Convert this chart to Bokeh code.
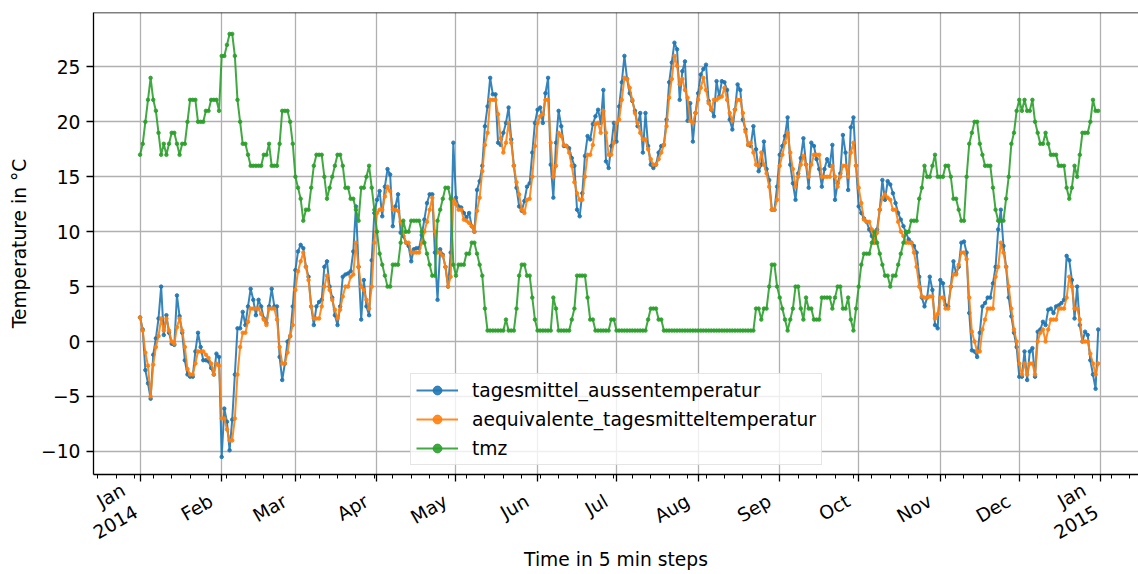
import math
from bokeh.plotting import figure
from bokeh.models import (ColumnDataSource, FixedTicker, Legend, LegendItem, Span,
                          Range1d)
from bokeh.embed import file_html
from bokeh.resources import INLINE

# ---------------- data (daily values, 1 Jan 2014 .. 31 Dec 2014) ----------------
month_labels = ["Jan\n2014", "Feb", "Mar", "Apr", "May", "Jun", "Jul", "Aug",
                "Sep", "Oct", "Nov", "Dec", "Jan\n2015"]
month_start_day = [0, 31, 59, 90, 120, 151, 181, 212, 243, 273, 304, 334, 365]
first_monday = 5          # 6 Jan 2014 was a Monday (minor ticks weekly)
y_ticks = [-10, -5, 0, 5, 10, 15, 20, 25]

tagesmittel_aussentemperatur = [
    2.2, 1.1, -2.6, -3.8, -5.2, -1.2, 0.3, 2.1, 5.0, 0.6, 2.4, 0.8, -0.2, -0.3, 4.2, 2.3, 0.8, -1.7, -3.0, -3.2, -3.2, -0.9, 0.8, -0.5, -1.7, -1.7, -1.8, -2.4, -3.0, -1.1, -1.4,
    -10.5, -6.1, -7.3, -9.9, -7.1, -3.0, 1.2, 1.2, 2.7, 1.5, 3.2, 4.8, 3.8, 2.4, 3.8, 3.2, 2.1, 1.7, 3.2, 4.8, 3.2, 3.2, -1.4, -3.5, -2.0, 0.0, 0.5, 3.2,
    6.5, 8.2, 8.8, 8.5, 6.8, 5.9, 3.2, 1.5, 3.2, 3.6, 3.8, 6.8, 7.3, 5.0, 4.0, 2.4, 1.5, 3.2, 5.9, 6.1, 6.2, 6.4, 8.2, 12.3, 6.8, 2.0, 5.6, 3.2, 2.4, 7.4, 11.7,
    12.9, 13.7, 11.4, 14.1, 15.7, 15.2, 10.5, 12.3, 13.4, 9.9, 9.6, 9.0, 8.7, 7.3, 8.4, 8.5, 8.5, 9.7, 11.1, 12.6, 13.4, 13.4, 8.1, 3.8, 8.4, 7.9, 6.8, 5.0, 8.1, 18.1,
    13.1, 12.3, 12.2, 11.7, 11.3, 11.7, 10.5, 10.0, 13.8, 14.6, 16.0, 19.6, 21.4, 24.0, 22.5, 22.5, 18.1, 17.9, 19.0, 19.9, 21.3, 18.4, 16.0, 14.0, 12.3, 11.9, 12.8, 14.1, 14.4, 17.2, 19.9,
    21.1, 21.3, 19.9, 22.6, 24.0, 16.1, 13.1, 18.1, 21.0, 19.6, 17.8, 17.8, 17.6, 16.7, 16.0, 12.0, 11.4, 13.5, 16.9, 18.7, 18.4, 19.8, 20.5, 21.1, 19.9, 22.9, 16.4, 15.8, 17.8, 19.9,
    18.2, 21.4, 23.6, 26.0, 23.9, 22.6, 21.9, 21.0, 19.6, 20.8, 17.2, 20.8, 17.8, 16.1, 15.8, 16.1, 17.2, 17.8, 17.9, 20.2, 23.6, 25.4, 27.2, 26.6, 22.0, 24.6, 25.5, 20.1, 21.7, 18.2, 20.8,
    22.6, 24.3, 24.8, 25.2, 21.9, 21.1, 20.5, 23.7, 22.3, 23.7, 23.6, 22.9, 20.2, 19.3, 21.1, 23.4, 22.9, 20.2, 19.3, 17.9, 17.8, 19.6, 17.5, 15.5, 16.1, 18.2, 15.7, 14.7, 12.0, 12.0, 14.1,
    17.0, 17.8, 18.7, 20.4, 16.1, 14.4, 12.9, 15.3, 16.7, 18.5, 16.1, 14.0, 18.1, 17.8, 16.6, 15.7, 14.1, 15.7, 16.6, 16.0, 17.9, 12.9, 14.4, 15.3, 18.8, 17.2, 13.8, 19.5, 20.4, 16.0,
    12.3, 11.7, 11.2, 10.9, 10.2, 9.6, 9.0, 10.2, 12.0, 14.7, 12.9, 14.6, 14.3, 13.5, 12.6, 11.7, 11.1, 10.5, 9.9, 9.3, 9.0, 8.7, 8.1, 5.9, 4.0, 3.2, 4.0, 5.9, 4.7, 1.5, 1.2,
    5.6, 5.3, 3.3, 3.2, 5.0, 7.3, 6.2, 6.8, 9.0, 9.1, 8.1, 2.6, -0.8, -0.9, -1.4, 0.8, 3.2, 3.5, 4.0, 4.0, 5.3, 6.8, 10.2, 12.0, 8.7, 6.8, 4.0, 2.3, 0.8, -0.5,
    -3.2, -3.2, -0.9, -3.5, -0.9, -0.6, -3.2, 0.9, 1.1, 1.8, 1.5, 2.9, 3.0, 2.6, 3.2, 3.3, 3.5, 3.8, 7.8, 7.4, 5.6, 2.1, 5.0, 1.5, 0.0, 0.9, 0.6, -1.7, -3.0, -4.3, 1.1,
]

aequivalente_tagesmitteltemperatur = [
    2.2, 1.0, -1.0, -2.2, -5.0, -2.1, -0.5, 0.5, 2.1, 1.0, 2.1, 1.0, 0.0, -0.2, 1.3, 2.1, 1.0, -0.5, -2.5, -3.0, -3.0, -2.0, -0.9, -0.9, -0.9, -1.2, -1.5, -2.0, -3.0, -2.0, -2.2,
    -7.0, -7.0, -8.0, -9.0, -9.0, -7.0, -3.0, -0.5, 0.8, 0.8, 1.8, 3.0, 3.0, 3.0, 3.0, 2.5, 2.0, 1.5, 3.0, 3.0, 3.0, 2.0, -0.5, -2.0, -2.0, -1.0, 0.5, 1.5,
    4.7, 6.4, 7.3, 8.1, 6.8, 5.6, 3.2, 2.1, 2.1, 2.1, 3.2, 5.0, 6.0, 4.7, 3.8, 2.9, 2.1, 2.9, 4.1, 5.0, 5.0, 5.9, 6.1, 9.0, 6.8, 5.0, 4.7, 3.8, 3.0, 5.0, 9.0,
    11.7, 12.0, 12.0, 13.2, 14.1, 13.7, 12.0, 12.0, 11.9, 10.9, 9.9, 9.0, 9.0, 8.1, 8.1, 8.1, 8.1, 9.0, 10.0, 10.9, 12.0, 13.1, 10.0, 8.1, 8.1, 7.8, 6.8, 5.0, 5.9, 12.9,
    12.5, 12.0, 12.0, 11.1, 11.0, 10.8, 10.5, 10.0, 11.9, 13.1, 15.5, 17.9, 19.0, 22.0, 22.0, 22.0, 20.7, 18.5, 17.2, 18.1, 19.9, 18.1, 16.0, 14.5, 13.4, 12.0, 11.7, 12.9, 13.0, 15.0, 17.8,
    19.9, 20.5, 20.7, 22.0, 22.0, 18.1, 15.0, 16.0, 19.0, 18.7, 17.9, 17.8, 17.2, 16.0, 14.5, 13.5, 12.9, 12.9, 15.0, 17.0, 17.0, 17.9, 19.8, 19.9, 19.0, 21.0, 19.0, 17.0, 17.0, 18.1,
    19.9, 20.2, 22.0, 24.0, 23.9, 23.1, 22.0, 20.8, 19.9, 19.0, 18.4, 18.4, 17.5, 16.6, 16.1, 16.1, 16.6, 17.2, 17.9, 19.6, 22.2, 23.9, 26.0, 25.1, 23.4, 23.9, 22.9, 22.2, 20.1, 19.9, 20.8,
    22.0, 23.1, 24.0, 22.9, 21.7, 21.1, 22.0, 22.0, 22.2, 22.3, 23.1, 22.0, 20.8, 20.1, 21.1, 22.0, 22.0, 20.8, 19.1, 17.9, 18.1, 17.2, 16.1, 16.0, 17.2, 16.1, 15.3, 14.1, 12.0, 12.0, 12.9,
    16.0, 17.0, 18.1, 19.0, 17.2, 15.7, 14.1, 15.0, 16.1, 16.9, 16.1, 15.0, 16.1, 17.0, 17.0, 17.0, 15.0, 15.0, 15.0, 15.0, 16.0, 15.0, 14.1, 15.0, 16.0, 16.0, 15.0, 17.2, 18.1, 16.0,
    14.0, 12.6, 11.1, 10.9, 10.9, 10.2, 9.0, 9.9, 12.0, 13.1, 13.4, 13.1, 12.9, 12.0, 12.0, 10.9, 10.0, 9.6, 9.0, 9.0, 9.0, 8.1, 6.8, 5.0, 4.1, 4.0, 4.0, 4.1, 4.1, 2.1, 2.5,
    4.0, 4.0, 3.0, 3.0, 5.0, 6.1, 6.1, 7.0, 8.1, 8.1, 7.5, 4.0, 0.9, 0.0, -0.9, -0.9, 1.1, 2.0, 3.0, 3.0, 3.0, 5.9, 6.8, 9.0, 8.1, 6.8, 5.0, 3.0, 1.1, 0.0,
    -2.0, -3.0, -2.0, -3.0, -2.0, -2.0, -3.0, 0.0, 0.8, 1.1, 0.0, 1.1, 2.0, 2.0, 2.0, 3.0, 3.0, 3.0, 4.0, 5.9, 5.0, 3.0, 3.0, 2.0, 0.0, 0.0, 0.0, -1.1, -2.0, -3.0, -2.0,
]

tmz = [
    17, 18, 20, 22, 24, 22, 21, 19, 17, 18, 17, 18, 19, 19, 18, 17, 18, 18, 20, 22, 22, 22, 20, 20, 20, 21, 21, 22, 22, 22, 21,
    26, 26, 27, 28, 28, 26, 22, 20, 18, 18, 17, 16, 16, 16, 16, 16, 17, 17, 18, 16, 16, 16, 18, 21, 21, 21, 20, 18,
    15, 14, 13, 11, 12, 12, 14, 16, 17, 17, 17, 15, 13, 14, 15, 16, 17, 17, 16, 14, 14, 13, 13, 12, 11, 14, 14, 15, 16, 14, 12,
    10, 8, 7, 6, 5, 5, 7, 7, 7, 9, 11, 10, 10, 11, 11, 11, 11, 10, 9, 8, 7, 6, 6, 11, 12, 13, 14, 14, 13, 7,
    6, 7, 7, 7, 8, 8, 9, 9, 8, 7, 6, 3, 1, 1, 1, 1, 1, 1, 1, 2, 1, 1, 1, 3, 6, 7, 7, 6, 6, 4, 2,
    1, 1, 1, 1, 1, 1, 4, 3, 1, 1, 1, 1, 1, 2, 3, 6, 6, 6, 6, 4, 2, 2, 1, 1, 1, 1, 1, 1, 2, 2,
    1, 1, 1, 1, 1, 1, 1, 1, 1, 1, 1, 1, 2, 3, 3, 3, 2, 2, 1, 1, 1, 1, 1, 1, 1, 1, 1, 1, 1, 1, 1,
    1, 1, 1, 1, 1, 1, 1, 1, 1, 1, 1, 1, 1, 1, 1, 1, 1, 1, 1, 1, 1, 1, 3, 3, 2, 3, 3, 5, 7, 7, 5,
    4, 3, 2, 1, 2, 3, 5, 5, 3, 2, 4, 3, 3, 2, 2, 2, 4, 4, 4, 4, 3, 4, 5, 5, 3, 3, 4, 2, 1, 3,
    5, 7, 8, 8, 8, 9, 10, 9, 8, 7, 6, 6, 5, 6, 6, 7, 8, 9, 10, 10, 11, 11, 11, 13, 14, 16, 15, 15, 16, 17, 15,
    15, 15, 16, 16, 15, 13, 13, 12, 11, 11, 15, 18, 19, 20, 20, 18, 17, 16, 16, 16, 14, 12, 11, 11, 11, 13, 15, 18, 19, 21,
    22, 21, 22, 21, 21, 22, 20, 19, 18, 18, 19, 18, 17, 17, 17, 16, 16, 16, 14, 13, 14, 16, 15, 17, 19, 19, 19, 20, 22, 21, 21,
]

series = [
    ("tagesmittel_aussentemperatur", tagesmittel_aussentemperatur, "#1f77b4"),
    ("aequivalente_tagesmitteltemperatur", aequivalente_tagesmitteltemperatur, "#ff7f0e"),
    ("tmz", tmz, "#2ca02c"),
]

# ---------------- layout constants ----------------
FONT = "DejaVu Sans"
FS = "18.7px"
W, H = 1138, 574
FRAME_LEFT, FRAME_TOP, FRAME_BOTTOM = 93, 12, 474
X_MIN, X_MAX = -17.7, 379.3
Y_MIN, Y_MAX = -12.1, 29.95
PAD = "\u00a0\u00a0"      # rotated month labels end a little before their tick


def padded(label):
    return "\n".join(line + PAD for line in label.split("\n"))


p = figure(width=W, height=H, output_backend="svg", toolbar_location=None,
           x_range=Range1d(X_MIN, X_MAX), y_range=Range1d(Y_MIN, Y_MAX),
           min_border_left=FRAME_LEFT, min_border_right=0, min_border_top=FRAME_TOP,
           min_border_bottom=H - FRAME_BOTTOM)
p.outline_line_color = None
p.background_fill_color = "white"
p.border_fill_color = "white"

days = list(range(len(tmz)))
items = []
for name, vals, col in series:
    src = ColumnDataSource(dict(day=days[:len(vals)], v=vals))
    r1 = p.line("day", "v", source=src, line_color=col, line_width=2.0, line_alpha=0.9)
    r2 = p.scatter("day", "v", source=src, size=3.5, fill_color=col, line_color=col,
                   alpha=0.9)
    items.append(LegendItem(label=name, renderers=[r1, r2]))

# x axis: months, weekly minor ticks
mondays = list(range(first_monday - 21, 381, 7))
p.xaxis.ticker = FixedTicker(ticks=month_start_day, minor_ticks=mondays)
p.xaxis.major_label_overrides = {d: padded(lab) for d, lab in zip(month_start_day, month_labels)}
p.xaxis.major_label_orientation = math.pi / 6
p.yaxis.ticker = FixedTicker(ticks=y_ticks, minor_ticks=[])
p.yaxis.major_label_overrides = {v: ("\u2212%d" % -v if v < 0 else str(v)) for v in y_ticks}

for ax in (p.xaxis[0], p.yaxis[0]):
    ax.axis_line_color = "black"
    ax.axis_line_width = 1.3
    ax.major_tick_line_color = "black"
    ax.major_tick_line_width = 1.3
    ax.major_tick_out = 7
    ax.major_tick_in = 0
    ax.minor_tick_line_color = "black"
    ax.minor_tick_line_width = 1.0
    ax.minor_tick_out = 4
    ax.minor_tick_in = 0
    ax.major_label_text_font = FONT
    ax.major_label_text_font_size = FS
    ax.major_label_text_color = "black"
    ax.major_label_standoff = 6
    ax.axis_label_text_font = FONT
    ax.axis_label_text_font_size = FS
    ax.axis_label_text_font_style = "normal"
    ax.axis_label_text_color = "black"

p.xaxis.major_label_standoff = 12
p.xaxis.axis_label = "Time in 5 min steps"
p.xaxis.axis_label_standoff = -17
p.yaxis.axis_label = "Temperature in °C"
p.yaxis.axis_label_standoff = 8

p.grid.grid_line_color = "#b0b0b0"
p.grid.grid_line_width = 1.3

# top spine
p.add_layout(Span(location=Y_MAX, dimension="width", line_color="black", line_width=1.3))

legend = Legend(items=items, location=(317, 9))
legend.label_text_font = FONT
legend.label_text_font_size = FS
legend.label_text_color = "black"
legend.glyph_width = 42
legend.glyph_height = 22
legend.label_height = 22
legend.label_standoff = 14
legend.spacing = 7
legend.padding = 5
legend.margin = 0
legend.border_line_color = "#cccccc"
legend.border_line_width = 1.3
legend.background_fill_color = "white"
legend.background_fill_alpha = 0.8
p.add_layout(legend)

open("out.html", "w").write(file_html(p, INLINE))
